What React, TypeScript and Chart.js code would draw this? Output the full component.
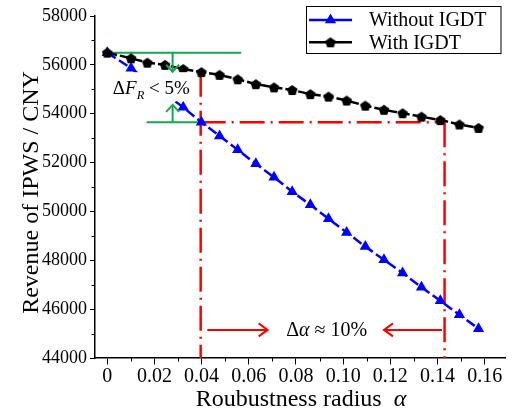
import React, { useEffect, useRef } from 'react';
import { Chart, registerables } from 'chart.js';

Chart.register(...registerables);

// ---------- data ----------
const alphaValues = [0, 0.0101, 0.017, 0.0245, 0.0322, 0.0399, 0.0476, 0.0553, 0.063, 0.0707, 0.0784, 0.0861, 0.0938, 0.1015, 0.1094, 0.1173, 0.1252, 0.1332, 0.1412, 0.1493, 0.1574];
const revenueWithIGDT = [56500, 56270, 56090, 56000, 55830, 55700, 55590, 55410, 55210, 55080, 54970, 54800, 54700, 54540, 54330, 54160, 54020, 53880, 53740, 53560, 53420];
// points under the ΔF_R label are not visible in the reference -> null
const revenueWithoutIGDT = [56500, 55860, null, null, 54260, 53650, 53090, 52520, 51950, 51400, 50810, 50270, 49700, 49140, 48560, 48020, 47480, 46900, 46340, 45770, 45200];
const seriesLabels = ['Without IGDT', 'With IGDT'];

const xMin = -0.0052;
const xMax = 0.169;
const xStep = 0.02;
const yMin = 44000;
const yMax = 58000;
const yStep = 2000;

const xTitle = 'Roubustness radius  ';
const xTitleSymbol = 'α';
const yTitle = 'Revenue of IPWS / CNY';

// annotation values (data units)
const alphaLow = 0.0396;
const alphaHigh = 0.143;
const revenueStart = 56500;
const revenueLowIGDT = 55720;
const revenueCross = 53650;
const revenueUpTip = 54360;
const greenTopEnd = 0.0568;
const greenArrowAlpha = 0.0277;
const greenLowStart = 0.0167;
const greenLowEnd = 0.0406;
const dfLabelAlpha = 0.0187;
const dfLabelRevenue = 54800;
const arrowRevenue = 45150;
const leftArrowFrom = 0.0424;
const leftArrowTo = 0.068;
const rightArrowFrom = 0.1419;
const rightArrowTo = 0.1173;
const daLabelAlpha = 0.093;

const SERIF = '"Liberation Serif", "Times New Roman", Times, serif';
const fnt = (size: number, italic = false) => `${italic ? 'italic ' : ''}${size}px ${SERIF}`;

const BLUE = '#0000ff';
const BLACK = '#000000';
const RED = '#ff0000';
const GREEN = '#13a84f';

function makePentagon(r: number, color: string) {
  const size = Math.ceil(2 * r + 2);
  const c = document.createElement('canvas');
  c.width = size;
  c.height = size;
  const g = c.getContext('2d')!;
  g.fillStyle = color;
  g.beginPath();
  for (let i = 0; i < 5; i++) {
    const a = -Math.PI / 2 + (i * 2 * Math.PI) / 5;
    const px = size / 2 + r * Math.cos(a);
    const py = size / 2 + r * Math.sin(a) + r * 0.1;
    if (i === 0) g.moveTo(px, py);
    else g.lineTo(px, py);
  }
  g.closePath();
  g.fill();
  return c;
}

type Run = { text: string; font: string; dy?: number };

function drawRuns(ctx: CanvasRenderingContext2D, runs: Run[], x: number, baseline: number, align: 'center' | 'left' = 'center') {
  let total = 0;
  for (const r of runs) {
    ctx.font = r.font;
    total += ctx.measureText(r.text).width;
  }
  let cx = align === 'center' ? x - total / 2 : x;
  ctx.textAlign = 'left';
  ctx.textBaseline = 'alphabetic';
  for (const r of runs) {
    ctx.font = r.font;
    ctx.fillText(r.text, cx, baseline + (r.dy || 0));
    cx += ctx.measureText(r.text).width;
  }
  return total;
}

function seg(ctx: CanvasRenderingContext2D, x1: number, y1: number, x2: number, y2: number) {
  ctx.beginPath();
  ctx.moveTo(x1, y1);
  ctx.lineTo(x2, y2);
  ctx.stroke();
}

function arrow(ctx: CanvasRenderingContext2D, x1: number, y1: number, x2: number, y2: number, head: number, spread: number) {
  seg(ctx, x1, y1, x2, y2);
  const a = Math.atan2(y2 - y1, x2 - x1);
  const bx = x2 - head * Math.cos(a);
  const by = y2 - head * Math.sin(a);
  const px = -Math.sin(a) * spread;
  const py = Math.cos(a) * spread;
  ctx.beginPath();
  ctx.moveTo(bx + px, by + py);
  ctx.lineTo(x2, y2);
  ctx.lineTo(bx - px, by - py);
  ctx.stroke();
}

const pentagon = typeof document !== 'undefined' ? makePentagon(5.6, BLACK) : undefined;

const annotationPlugin = {
  id: 'annotations',
  beforeDatasetsDraw(chart: any) {
    const { ctx, scales } = chart;
    const X = (v: number) => scales.x.getPixelForValue(v);
    const Y = (v: number) => scales.y.getPixelForValue(v);
    const bottom = chart.chartArea.bottom;
    ctx.save();
    ctx.lineCap = 'butt';
    // red dash-dot guide lines
    ctx.strokeStyle = RED;
    ctx.lineWidth = 2.5;
    ctx.setLineDash([25, 6, 2, 6]);
    seg(ctx, X(alphaLow), Y(revenueLowIGDT), X(alphaLow), bottom);
    seg(ctx, X(alphaLow), Y(revenueCross), X(alphaHigh), Y(revenueCross));
    seg(ctx, X(alphaHigh), Y(revenueCross), X(alphaHigh), bottom);
    ctx.setLineDash([]);
    // green lines (arrows drawn after the label box)
    ctx.strokeStyle = GREEN;
    ctx.lineWidth = 2;
    seg(ctx, X(0), Y(revenueStart), X(greenTopEnd), Y(revenueStart));
    seg(ctx, X(greenLowStart), Y(revenueCross), X(greenLowEnd), Y(revenueCross));
    ctx.restore();
  },
  afterDatasetsDraw(chart: any) {
    const { ctx, scales } = chart;
    const X = (v: number) => scales.x.getPixelForValue(v);
    const Y = (v: number) => scales.y.getPixelForValue(v);
    ctx.save();
    // ΔF_R < 5% label with white background
    const dfRuns: Run[] = [
      { text: 'Δ', font: fnt(19) },
      { text: 'F', font: fnt(19, true) },
      { text: 'R', font: fnt(12.5, true), dy: 5 },
      { text: ' < 5%', font: fnt(19) },
    ];
    let w = 0;
    for (const r of dfRuns) { ctx.font = r.font; w += ctx.measureText(r.text).width; }
    const lx = X(dfLabelAlpha);
    const ly = Y(dfLabelRevenue);
    ctx.fillStyle = '#ffffff';
    ctx.fillRect(lx - w / 2 - 3, ly - 22, w + 4, 29);
    ctx.fillStyle = BLACK;
    drawRuns(ctx, dfRuns, lx, ly);

    // green arrows
    ctx.strokeStyle = GREEN;
    ctx.lineWidth = 2;
    arrow(ctx, X(greenArrowAlpha), Y(revenueStart), X(greenArrowAlpha), Y(revenueLowIGDT), 7, 6.5);
    arrow(ctx, X(greenArrowAlpha), Y(revenueCross), X(greenArrowAlpha), Y(revenueUpTip), 7, 6.5);

    // red arrows and Δα label
    ctx.strokeStyle = RED;
    ctx.lineWidth = 2;
    const ay = Y(arrowRevenue);
    arrow(ctx, X(leftArrowFrom), ay, X(leftArrowTo), ay, 9, 6.5);
    arrow(ctx, X(rightArrowFrom), ay, X(rightArrowTo), ay, 9, 6.5);
    ctx.fillStyle = BLACK;
    drawRuns(ctx, [
      { text: 'Δ', font: fnt(20) },
      { text: 'α', font: fnt(20, true) },
      { text: ' ≈ 10%', font: fnt(20) },
    ], X(daLabelAlpha), ay + 6.5);
    ctx.restore();
  },
  afterDraw(chart: any) {
    const { ctx, scales, chartArea } = chart;
    const X = (v: number) => scales.x.getPixelForValue(v);
    const Y = (v: number) => scales.y.getPixelForValue(v);
    ctx.save();
    // minor ticks
    ctx.strokeStyle = BLACK;
    ctx.lineWidth = 1;
    for (let v = xStep / 2; v < xMax; v += xStep) {
      const px = Math.round(X(v)) + 0.5;
      seg(ctx, px, chartArea.bottom, px, chartArea.bottom + 3.5);
    }
    for (let v = yMin + yStep / 2; v < yMax; v += yStep) {
      const py = Math.round(Y(v)) + 0.5;
      seg(ctx, chartArea.left, py, chartArea.left - 3.5, py);
    }
    // axis titles
    ctx.fillStyle = BLACK;
    drawRuns(ctx, [
      { text: xTitle, font: fnt(24) },
      { text: xTitleSymbol, font: fnt(24, true) },
    ], 301, 405.5);
    ctx.translate(38, 192.5);
    ctx.rotate(-Math.PI / 2);
    ctx.font = fnt(24);
    ctx.textAlign = 'center';
    ctx.textBaseline = 'alphabetic';
    ctx.fillText(yTitle, 0, 0);
    ctx.setTransform(1, 0, 0, 1, 0, 0);

    // legend box
    const bx = 306.5, by = 6.5, bw = 194.5, bh = 47;
    ctx.fillStyle = '#ffffff';
    ctx.fillRect(bx, by, bw, bh);
    ctx.strokeStyle = BLACK;
    ctx.lineWidth = 1;
    ctx.strokeRect(bx, by, bw, bh);
    const rows = [
      { label: seriesLabels[0], color: BLUE, y: 20, marker: 'triangle' },
      { label: seriesLabels[1], color: BLACK, y: 42.3, marker: 'pentagon' },
    ];
    for (const r of rows) {
      ctx.strokeStyle = r.color;
      ctx.lineWidth = 2.5;
      seg(ctx, 309, r.y, 352, r.y);
      const mx = 330.5;
      if (r.marker === 'triangle') {
        const rr = 6.5;
        ctx.fillStyle = r.color;
        ctx.beginPath();
        ctx.moveTo(mx, r.y - rr);
        ctx.lineTo(mx + rr * Math.sin((2 * Math.PI) / 3), r.y + rr / 2);
        ctx.lineTo(mx - rr * Math.sin((2 * Math.PI) / 3), r.y + rr / 2);
        ctx.closePath();
        ctx.fill();
      } else if (pentagon) {
        ctx.drawImage(pentagon, mx - pentagon.width / 2, r.y - pentagon.height / 2);
      }
      ctx.fillStyle = BLACK;
      ctx.font = fnt(20);
      ctx.textAlign = 'left';
      ctx.textBaseline = 'middle';
      ctx.fillText(r.label, 369, r.y + 1);
    }
    ctx.restore();
  },
};

export default function App() {
  const canvasRef = useRef<HTMLCanvasElement | null>(null);

  useEffect(() => {
    if (!canvasRef.current) return;
    const withoutPts = alphaValues
      .map((a, i) => ({ x: a, y: revenueWithoutIGDT[i] }))
      .filter((p) => p.y !== null) as { x: number; y: number }[];
    const withPts = alphaValues.map((a, i) => ({ x: a, y: revenueWithIGDT[i] }));

    const chart = new Chart(canvasRef.current, {
      type: 'line',
      data: {
        datasets: [
          {
            label: seriesLabels[0],
            data: withoutPts,
            borderColor: BLUE,
            backgroundColor: BLUE,
            borderWidth: 2.5,
            borderDash: [10, 4],
            pointStyle: 'triangle',
            pointRadius: 6.5,
            pointBorderWidth: 0,
            pointBackgroundColor: BLUE,
            tension: 0,
            order: 1,
          },
          {
            label: seriesLabels[1],
            data: withPts,
            borderColor: BLACK,
            backgroundColor: BLACK,
            borderWidth: 2.5,
            borderDash: [10, 3],
            pointStyle: pentagon as any,
            pointRadius: 5.6,
            tension: 0,
            order: 0,
          },
        ],
      },
      options: {
        animation: false,
        responsive: false,
        layout: { padding: { top: 16, left: 0, right: 0, bottom: 0 } },
        plugins: {
          legend: { display: false },
          tooltip: { enabled: false },
        },
        scales: {
          x: {
            type: 'linear',
            min: xMin,
            max: xMax,
            afterFit: (s: any) => { s.height = 54; },
            border: { display: true, color: BLACK, width: 1.5 },
            grid: { display: true, drawOnChartArea: false, drawTicks: true, tickLength: 6.5, color: BLACK, lineWidth: 1 },
            ticks: {
              stepSize: xStep,
              includeBounds: false,
              autoSkip: false,
              maxRotation: 0,
              padding: 0,
              color: BLACK,
              font: { family: SERIF, size: 20 },
              callback: (v: any) => {
                const n = Number(v);
                return Math.abs(n) < 1e-9 ? '0' : n.toFixed(2);
              },
            },
            title: { display: false },
          },
          y: {
            type: 'linear',
            min: yMin,
            max: yMax,
            afterFit: (s: any) => { s.width = 95; },
            border: { display: true, color: BLACK, width: 1.5 },
            grid: { display: true, drawOnChartArea: false, drawTicks: true, tickLength: 5, color: BLACK, lineWidth: 1 },
            ticks: {
              stepSize: yStep,
              autoSkip: false,
              padding: 3,
              color: BLACK,
              font: { family: SERIF, size: 18 },
              callback: (v: any) => String(Math.round(Number(v))),
            },
            title: { display: false },
          },
        },
      },
      plugins: [annotationPlugin],
    });
    return () => chart.destroy();
  }, []);

  return (
    <div style={{ position: 'absolute', left: 0, top: 0, width: 514, height: 412, background: '#ffffff' }}>
      <canvas ref={canvasRef} width={514} height={412} style={{ display: 'block' }} />
    </div>
  );
}
